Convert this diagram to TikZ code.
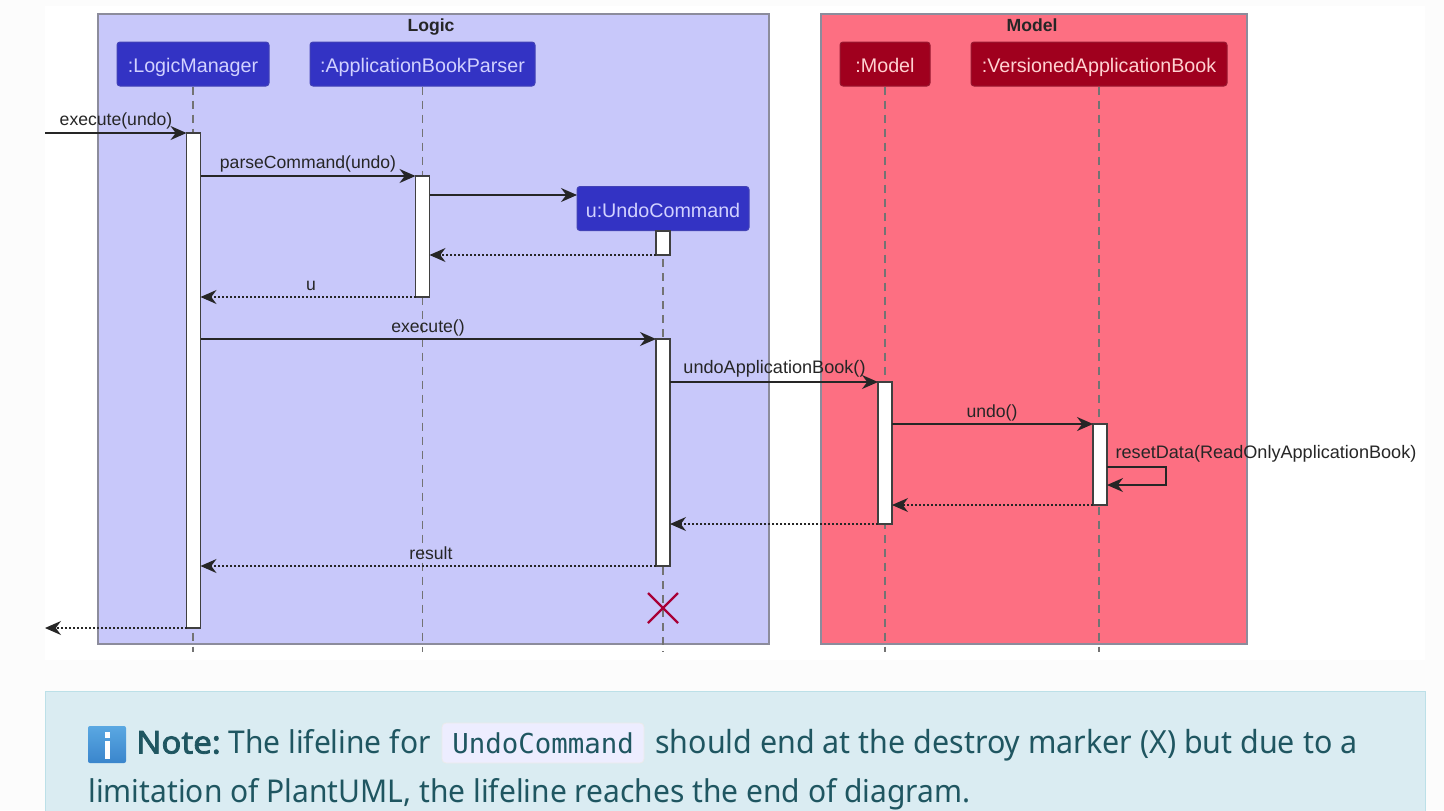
\documentclass[tikz,border=0pt]{standalone}
\usepackage{fontspec}
\setmainfont{Liberation Sans}
\newfontfamily\notefont[FakeStretch=.955]{Noto Sans}
\newfontfamily\noteboldfont[FakeStretch=1.05,FakeBold=2.5]{Noto Sans}
\newfontfamily\codefont{DejaVu Sans Mono}
\usetikzlibrary{arrows.meta}

\definecolor{pagebg}{HTML}{FCFCFC}
\definecolor{logicbg}{HTML}{C8C8FA}
\definecolor{modelbg}{HTML}{FD6F82}
\definecolor{framegray}{HTML}{8C8C9C}
\definecolor{logicbox}{HTML}{3333C4}
\definecolor{modelbox}{HTML}{A0001E}
\definecolor{noteink}{HTML}{1F5661}
\definecolor{notebg}{HTML}{DAECF2}
\definecolor{noteline}{HTML}{BCE0E8}
\definecolor{crosscol}{HTML}{A80036}
\definecolor{icontop}{HTML}{5AA8E2}
\definecolor{iconbot}{HTML}{3A85CC}

\tikzset{
	frame/.style={draw=framegray,line width=.7pt},
	title/.style={font=\bfseries\fontsize{8.8}{10}\selectfont,text=black!85,text height=6.5pt,text depth=1.5pt,inner sep=0pt},
	actor/.style={draw=#1!80!gray,fill=#1,rounded corners=1.5pt,line width=.5pt,minimum height=22pt,inner sep=0pt,font=\fontsize{9.85}{11}\selectfont,text height=9pt,text depth=.5pt},
	lifeline/.style={draw=black!55,line width=.6pt,dash pattern=on 4pt off 3pt},
	actbar/.style={draw=black!75,fill=white,line width=.9pt,minimum width=7pt,inner sep=0pt,outer sep=0pt},
	msg/.style={draw=black!85,line width=.7pt,-{Stealth[length=8pt,width=7pt,inset=2.6pt]}},
	back/.style={msg,line width=.55pt,dash pattern=on 1pt off 1pt},
	lab/.style={font=\fontsize{8.8}{10}\selectfont,text=black!85,inner sep=0pt,text height=6.5pt,text depth=2pt},
	widelab/.style={lab,font=\fontsize{9.05}{10}\selectfont},
	notetext/.style={font=\notefont\fontsize{15.7}{19}\selectfont,text=noteink,anchor=base west,inner sep=0pt}
}

\begin{document}
\begin{tikzpicture}[x=.5pt,y=-.5pt]
\useasboundingbox (0,0) rectangle (1444,810);
\clip (0,0) rectangle (1444,810);
\fill[pagebg] (0,0) rectangle (1444,810);
\fill[white] (45,6) rectangle (1425,660);

% boxes
\path[frame,fill=logicbg] (98,14) rectangle (769,644);
\path[frame,fill=modelbg] (821,14) rectangle (1247,644);
\path (431,26) node[title] (logic) {Logic}
		(1032,26) node[title] (model) {Model};

% participants
\path (193,64) node[actor=logicbox,minimum width=76pt,text=blue!18] (lm) {:LogicManager}
		(422.5,64) node[actor=logicbox,minimum width=112.5pt,text=blue!18] (abp) {:ApplicationBookParser}
		(663,208.5) node[actor=logicbox,minimum width=86pt,text=blue!18] (uc) {u:UndoCommand}
		(885,64) node[actor=modelbox,minimum width=45pt,text=red!18] (mo) {:Model}
		(1099,64) node[actor=modelbox,minimum width=128pt,text=red!18] (vab) {:VersionedApplicationBook};

\path (193,652) coordinate (lm-end)
		(422.5,652) coordinate (abp-end)
		(663,652) coordinate (uc-end)
		(885,652) coordinate (mo-end)
		(1099,652) coordinate (vab-end);

\draw[lifeline] (lm) -- (lm-end);
\draw[lifeline] (abp) -- (abp-end);
\draw[lifeline] (uc) -- (uc-end);
\draw[lifeline] (mo) -- (mo-end);
\draw[lifeline] (vab) -- (vab-end);

% activations
\path (193.5,380.5) node[actbar,minimum height=247.5pt] (lm-bar) {}
		(422.5,236.5) node[actbar,minimum height=60.5pt] (abp-bar) {}
		(663,243) node[actbar,minimum height=12pt] (uc-bar) {}
		(663,452.5) node[actbar,minimum height=113.5pt] (uc-run) {}
		(885,453) node[actbar,minimum height=71pt] (mo-bar) {}
		(1100,464.5) node[actbar,minimum height=40.5pt] (vab-bar) {};

\path (45,133) coordinate (in-start)
		(45,628) coordinate (out-end)
		(430,195) coordinate (new-start)
		(577,195) coordinate (new-end)
		(1166,467) coordinate (self-a)
		(1166,485) coordinate (self-b);

% messages
\draw[msg] (in-start) -- (lm-bar.north west);
\draw[msg] (lm-bar.east |- abp-bar.north) -- (abp-bar.north west);
\draw[msg] (new-start) -- (new-end);
\draw[back] (uc-bar.south west) -- (abp-bar.east |- uc-bar.south);
\draw[back] (abp-bar.south west) -- (lm-bar.east |- abp-bar.south);
\draw[msg] (lm-bar.east |- uc-run.north) -- (uc-run.north west);
\draw[msg] (uc-run.east |- mo-bar.north) -- (mo-bar.north west);
\draw[msg] (mo-bar.east |- vab-bar.north) -- (vab-bar.north west);
\draw[msg] (vab-bar.east |- self-a) -- (self-a) -- (self-b) -- (vab-bar.east |- self-b);
\draw[back] (vab-bar.south west) -- (mo-bar.east |- vab-bar.south);
\draw[back] (mo-bar.south west) -- (uc-run.east |- mo-bar.south);
\draw[back] (uc-run.south west) -- (lm-bar.east |- uc-run.south);
\draw[back] (lm-bar.south west) -- (out-end);

\path (116,120.5) node[lab] (l-exec) {execute(undo)}
		(308,163.5) node[lab] (l-parse) {parseCommand(undo)}
		(311,285.5) node[lab] (l-u) {u}
		(428,327.5) node[lab] (l-run) {execute()}
		(774.5,368.5) node[widelab] (l-undoab) {undoApplicationBook()}
		(992,412.5) node[lab] (l-undo) {undo()}
		(1266,453.5) node[widelab] (l-reset) {resetData(ReadOnlyApplicationBook)}
		(431,554.5) node[lab] (l-result) {result};

% destroy marker
\path (663,608) coordinate (cross);
\draw[draw=crosscol,line width=1.2pt] ([shift={(-15,-15)}]cross) -- ([shift={(15,15)}]cross)
		([shift={(-15,15)}]cross) -- ([shift={(15,-15)}]cross);

% note
\path[draw=noteline,fill=notebg,line width=.5pt] (45,691) rectangle (1425,830);
\path[top color=icontop,bottom color=iconbot,rounded corners=1pt] (88,726) rectangle (126,763);
\fill[white] (105,732) rectangle (110,738);
\fill[white] (105,741) rectangle (110,759);
\path[fill=blue!7,draw=blue!4!black!8,rounded corners=2pt] (442,723) rectangle (644,763);
\path (136,753.5) node[notetext,font=\noteboldfont\fontsize{15.7}{19}\selectfont] (note-a) {Note:}
		(228,753.5) node[notetext] (note-b) {The lifeline for}
		(452,753.5) node[notetext,font=\codefont\fontsize{13.7}{16}\selectfont] (note-c) {UndoCommand}
		(655,753.5) node[notetext,font=\notefont\fontsize{15.92}{19}\selectfont] (note-d) {should end at the destroy marker (X) but due to a}
		(88,802.4) node[notetext] (note-e) {limitation of PlantUML, the lifeline reaches the end of diagram.};
\end{tikzpicture}
\end{document}
